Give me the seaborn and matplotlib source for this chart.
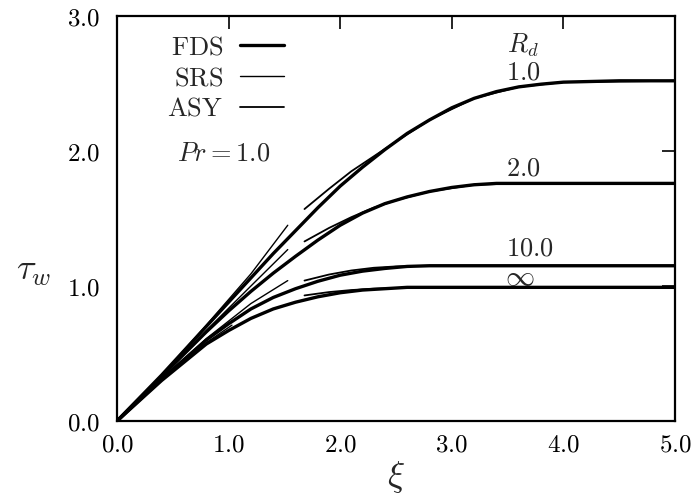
import numpy as np
import pandas as pd
import matplotlib
matplotlib.use('Agg')
import matplotlib.pyplot as plt
import seaborn as sns

# ---- data (xi, tau_w) ----
rd_labels = ['1.0', '2.0', '10.0', 'inf']

xi_fds = [0, 0.4, 0.8, 1.0, 1.2, 1.4, 1.6, 1.8, 2.0, 2.2, 2.4, 2.6, 2.8, 3.0, 3.2, 3.4, 3.6, 3.8, 4.0, 4.5, 5.0]
fds_1 = [0, 0.34, 0.70, 0.88, 1.06, 1.24, 1.41, 1.58, 1.74, 1.88, 2.01, 2.13, 2.23, 2.32, 2.39, 2.44, 2.475, 2.495, 2.51, 2.52, 2.52]
fds_2 = [0, 0.33, 0.66, 0.815, 0.96, 1.095, 1.22, 1.34, 1.45, 1.54, 1.61, 1.66, 1.70, 1.73, 1.75, 1.76, 1.76, 1.76, 1.76, 1.76, 1.76]
fds_10 = [0, 0.31, 0.60, 0.72, 0.83, 0.915, 0.98, 1.035, 1.08, 1.11, 1.13, 1.145, 1.15, 1.15, 1.15, 1.15, 1.15, 1.15, 1.15, 1.15, 1.15]
fds_inf = [0, 0.30, 0.57, 0.67, 0.76, 0.83, 0.88, 0.92, 0.95, 0.97, 0.98, 0.99, 0.99, 0.99, 0.99, 0.99, 0.99, 0.99, 0.99, 0.99, 0.99]

xi_srs = [0, 0.4, 0.8, 1.2, 1.53]
srs_1 = [0, 0.34, 0.71, 1.09, 1.45]
srs_2 = [0, 0.33, 0.67, 1.00, 1.27]
srs_10 = [0, 0.31, 0.61, 0.87, 1.04]
xi_srs_inf = [0, 0.4, 0.8, 1.03]
srs_inf = [0, 0.30, 0.58, 0.71]

xi_asy = [1.68, 1.9, 2.1, 2.3, 2.5, 2.8, 3.2, 3.6, 4.0, 5.0]
asy_1 = [1.57, 1.72, 1.85, 1.96, 2.07, 2.23, 2.39, 2.475, 2.51, 2.52]
asy_2 = [1.33, 1.43, 1.51, 1.58, 1.635, 1.70, 1.75, 1.76, 1.76, 1.76]
asy_10 = [1.04, 1.085, 1.115, 1.135, 1.145, 1.15, 1.15, 1.15, 1.15, 1.15]
asy_inf = [0.93, 0.955, 0.97, 0.98, 0.985, 0.99, 0.99, 0.99, 0.99, 0.99]

x_ticks = [0, 1, 2, 3, 4, 5]
y_ticks = [0, 1, 2, 3]

sns.set_theme(style='white')
plt.rcParams['mathtext.fontset'] = 'cm'
plt.rcParams['font.family'] = ['DejaVu Serif']

fig = plt.figure(figsize=(6.92, 4.98), dpi=100)
ax = fig.add_axes([117 / 692, 77 / 498, 558 / 692, 405 / 498])

# FDS - thick
for i, ys in enumerate([fds_1, fds_2, fds_10, fds_inf]):
    sns.lineplot(x=xi_fds, y=ys, ax=ax, color='black', linewidth=2.4, sort=False,
                 estimator=None, label=r'$\mathrm{FDS}$' if i == 0 else None)
# SRS - thin, small xi
srs_sets = [(xi_srs, srs_1), (xi_srs, srs_2), (xi_srs, srs_10), (xi_srs_inf, srs_inf)]
for i, (xs, ys) in enumerate(srs_sets):
    sns.lineplot(x=xs, y=ys, ax=ax, color='black', linewidth=1.0, sort=False,
                 estimator=None, label=r'$\mathrm{SRS}$' if i == 0 else None)
# ASY - thin, large xi
for i, ys in enumerate([asy_1, asy_2, asy_10, asy_inf]):
    sns.lineplot(x=xi_asy, y=ys, ax=ax, color='black', linewidth=1.3, sort=False,
                 estimator=None, label=r'$\mathrm{ASY}$' if i == 0 else None)

ax.set_xlim(0, 5)
ax.set_ylim(0, 3)
ax.set_xticks(x_ticks)
ax.set_yticks(y_ticks)
ax.set_xticklabels([r'$%.1f$' % v for v in x_ticks], fontsize=18)
ax.set_yticklabels([r'$%.1f$' % v for v in y_ticks], fontsize=18)
ax.tick_params(direction='in', length=9.5, width=1.2, top=True, right=True,
               color='black', labelcolor='black')
ax.tick_params(axis='x', pad=9)
ax.tick_params(axis='y', pad=12)
for s in ax.spines.values():
    s.set_linewidth(1.6)
    s.set_color('black')

ax.set_xlabel(r'$\xi$', fontsize=26)
ax.xaxis.set_label_coords(0.5, -0.095)
ax.set_ylabel(r'$\tau_w$', fontsize=26, rotation=0, va='center')
ax.yaxis.set_label_coords(-0.15, 0.37)

leg = ax.legend(loc='upper left', bbox_to_anchor=(0.09, 0.955), frameon=False,
                markerfirst=False, fontsize=19, handlelength=1.65, handletextpad=0.65,
                labelspacing=0.22, borderpad=0, borderaxespad=0)

ax.text(0.54, 1.985, r'$Pr = 1.0$', fontsize=19, va='center', ha='left')
ax.text(3.64, 2.785, r'$R_d$', fontsize=19, va='center', ha='center')
ax.text(3.64, 2.585, r'$1.0$', fontsize=19, va='center', ha='center')
ax.text(3.64, 1.874, r'$2.0$', fontsize=19, va='center', ha='center')
ax.text(3.70, 1.28, r'$10.0$', fontsize=19, va='center', ha='center')
ax.text(3.61, 1.067, r'$\infty$', fontsize=21, va='center', ha='center')

fig.savefig('out.png', dpi=100)
